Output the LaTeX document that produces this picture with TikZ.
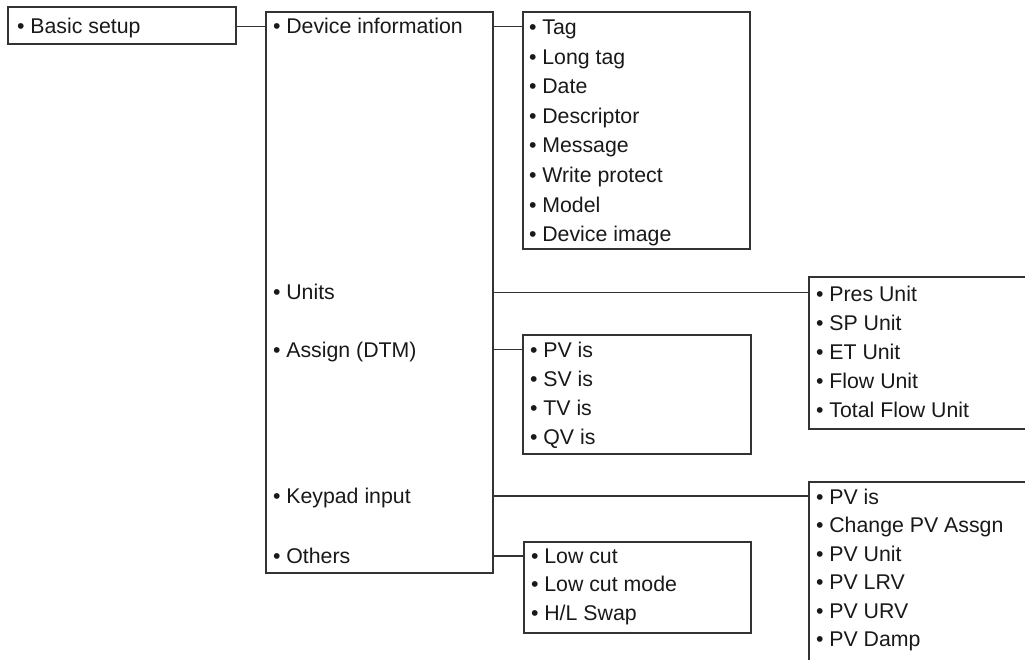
\documentclass[tikz,border=0pt]{standalone}
\usepackage{fontspec}
\setmainfont{Liberation Sans}
\begin{document}
\begin{tikzpicture}[x=1pt,y=-1pt,
  box/.style={draw=black!80, line width=1.2pt, anchor=north west, inner sep=0pt, outer sep=0pt},
  lbl/.style={anchor=base west, inner sep=0pt, outer sep=0pt, text height=15pt, text depth=0pt,
    font=\fontsize{21.3}{25}\selectfont, text=black!90},
  wire/.style={draw=black!80, line width=1.2pt}]
\useasboundingbox (0,0) rectangle (1025,660);
\clip (0,0) rectangle (1025,660);
\fill[white] (0,0) rectangle (1025,660);
% boxes
\node[box, minimum width=228pt, minimum height=37pt] (basic) at (8,7) {};
\node[box, minimum width=227pt, minimum height=561pt] (dev) at (266,12) {};
\node[box, minimum width=227pt, minimum height=237pt] (tagbox) at (523,12) {};
\node[box, minimum width=240pt, minimum height=152pt] (unitsbox) at (809,277) {};
\node[box, minimum width=228pt, minimum height=119pt] (assignbox) at (523,335) {};
\node[box, minimum width=240pt, minimum height=200pt] (keypadbox) at (809,482) {};
\node[box, minimum width=227pt, minimum height=91pt] (othersbox) at (524,542) {};
% level 0 and 1 labels
\node[lbl] (lbasic) at (17,34) {• Basic setup};
\node[lbl] (ldevinfo) at (273,34) {• Device information};
\node[lbl] (lunits) at (273,300) {• Units};
\node[lbl] (lassign) at (273,357) {• Assign (DTM)};
\node[lbl] (lkeypad) at (273,503.5) {• Keypad input};
\node[lbl] (lothers) at (273,563.5) {• Others};
% device information items
\node[lbl] (t1) at (529,34.5) {• Tag};
\node[lbl] (t2) at (529,64.1) {• Long tag};
\node[lbl] (t3) at (529,93.7) {• Date};
\node[lbl] (t4) at (529,123.3) {• Descriptor};
\node[lbl] (t5) at (529,152.9) {• Message};
\node[lbl] (t6) at (529,182.5) {• Write protect};
\node[lbl] (t7) at (529,212.1) {• Model};
\node[lbl] (t8) at (529,241.7) {• Device image};
% units items
\node[lbl] (u1) at (816,301.5) {• Pres Unit};
\node[lbl] (u2) at (816,330.5) {• SP Unit};
\node[lbl] (u3) at (816,359.5) {• ET Unit};
\node[lbl] (u4) at (816,388.5) {• Flow Unit};
\node[lbl] (u5) at (816,417.5) {• Total Flow Unit};
% assign items
\node[lbl] (a1) at (530,357) {• PV is};
\node[lbl] (a2) at (530,386) {• SV is};
\node[lbl] (a3) at (530,415) {• TV is};
\node[lbl] (a4) at (530,444) {• QV is};
% keypad items
\node[lbl] (k1) at (816,504.5) {• PV is};
\node[lbl] (k2) at (816,532.9) {• Change PV Assgn};
\node[lbl] (k3) at (816,561.3) {• PV Unit};
\node[lbl] (k4) at (816,589.7) {• PV LRV};
\node[lbl] (k5) at (816,618.1) {• PV URV};
\node[lbl] (k6) at (816,646.5) {• PV Damp};
% others items
\node[lbl] (o1) at (531,563) {• Low cut};
\node[lbl] (o2) at (531,591.5) {• Low cut mode};
\node[lbl] (o3) at (531,620) {• H/L Swap};
% connectors
\draw[wire] (basic.east |- ldevinfo.west) -- (dev.west |- ldevinfo.west);
\draw[wire] (dev.east |- ldevinfo.west) -- (tagbox.west |- ldevinfo.west);
\draw[wire] (dev.east |- lunits.west) -- (unitsbox.west |- lunits.west);
\draw[wire] (dev.east |- lassign.west) -- (assignbox.west |- lassign.west);
\draw[wire] (dev.east |- lkeypad.west) -- (keypadbox.west |- lkeypad.west);
\draw[wire] (dev.east |- lothers.west) -- (othersbox.west |- lothers.west);
\end{tikzpicture}
\end{document}
